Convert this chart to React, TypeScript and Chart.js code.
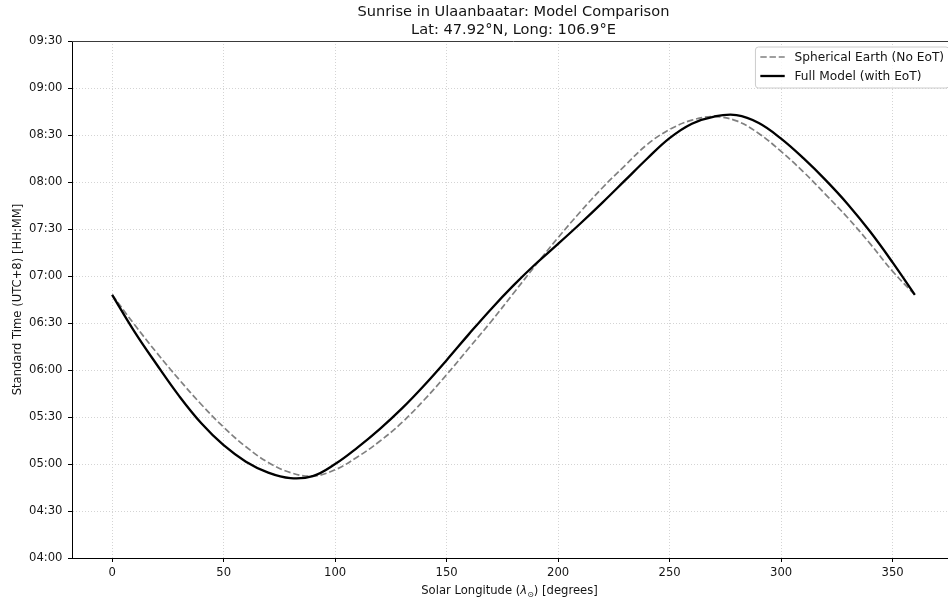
import React, { useEffect, useRef } from "react";
import { Chart, registerables } from "chart.js";

Chart.register(...registerables);

// ---- data (sunrise, minutes after midnight, UTC+8) ----
const longitudes = [
  0, 10, 20, 30, 40, 50, 60, 70, 80, 90, 100, 110, 120, 130, 140, 150, 160, 170, 180,
  190, 200, 210, 220, 230, 240, 250, 260, 270, 280, 290, 300, 310, 320, 330, 340, 350, 360,
];
const sphericalMinutes = [
  408, 389, 371, 354, 338, 323.5, 311, 301, 294.5, 292.3, 296.3, 304.5, 314.5, 326.5, 341, 357,
  374, 391, 409, 427, 444.5, 461, 476.5, 490.5, 504, 513.5, 519.5, 521.7, 519, 511, 499.5, 486.5,
  472, 457, 440.5, 423, 408,
];
const fullModelMinutes = [
  408, 384.5, 363.5, 343.5, 326, 312, 301.5, 294.5, 291, 292.3, 300, 310.5, 322.3, 335.5, 350.3,
  366.3, 382.9, 399, 414, 427.8, 440.5, 453.5, 467, 481, 495, 508, 517.2, 521.8, 522.7,
  517.7, 507.7, 495.2, 481.2, 465.7, 448.2, 428.7, 408,
];
const seriesLabels = ["Spherical Earth (No EoT)", "Full Model (with EoT)"];
const titleLines = ["Sunrise in Ulaanbaatar: Model Comparison", "Lat: 47.92°N, Long: 106.9°E"];
const yAxisTitle = "Standard Time (UTC+8) [HH:MM]";
const xAxisTitleParts = ["Solar Longitude (", "λ", "⊙", ") [degrees]"];
const yRange = [240, 570];
const yStep = 30;
const xRange = [-18, 378];
const xStep = 50;

const FONT = "'DejaVu Sans', sans-serif";
const TEXT = "#141414";
const TICK_FS = 11.6;
const LEGEND_FS = 12.2;

const fmt = (m: number) => {
  const h = Math.floor(m / 60);
  const mm = Math.round(m - h * 60);
  return `${String(h).padStart(2, "0")}:${String(mm).padStart(2, "0")}`;
};

const framePlugin = {
  id: "frameAndLegend",
  afterDraw(chart: any) {
    const { ctx, chartArea } = chart;
    const { left, right, top } = chartArea;
    ctx.save();
    // top spine
    ctx.strokeStyle = "#3a3a3a";
    ctx.lineWidth = 1;
    ctx.beginPath();
    ctx.moveTo(left, Math.round(top) + 0.5);
    ctx.lineTo(right, Math.round(top) + 0.5);
    ctx.stroke();

    // legend
    const fs = LEGEND_FS;
    ctx.font = `${fs}px ${FONT}`;
    const labels = chart.data.datasets.map((d: any) => d.label as string);
    const maxW = Math.max(...labels.map((l: string) => ctx.measureText(l).width));
    const pad = 0.4 * fs;
    const handle = 2 * fs;
    const gap = 0.8 * fs;
    const rowH = 19;
    const boxW = pad * 2 + handle + gap + maxW;
    const boxH = 41;
    const bx = right - 6 - boxW;
    const by = Math.round(top) + 6;
    ctx.beginPath();
    const r = 3;
    ctx.moveTo(bx + r, by);
    ctx.lineTo(bx + boxW - r, by);
    ctx.quadraticCurveTo(bx + boxW, by, bx + boxW, by + r);
    ctx.lineTo(bx + boxW, by + boxH - r);
    ctx.quadraticCurveTo(bx + boxW, by + boxH, bx + boxW - r, by + boxH);
    ctx.lineTo(bx + r, by + boxH);
    ctx.quadraticCurveTo(bx, by + boxH, bx, by + boxH - r);
    ctx.lineTo(bx, by + r);
    ctx.quadraticCurveTo(bx, by, bx + r, by);
    ctx.closePath();
    ctx.fillStyle = "rgba(255,255,255,0.8)";
    ctx.fill();
    ctx.strokeStyle = "#cccccc";
    ctx.lineWidth = 1;
    ctx.stroke();
    chart.data.datasets.forEach((d: any, i: number) => {
      const cy = by + 10 + i * rowH;
      const hx = bx + pad;
      ctx.save();
      ctx.strokeStyle = d.borderColor;
      ctx.lineWidth = d.borderWidth;
      ctx.setLineDash(d.borderDash || []);
      ctx.beginPath();
      ctx.moveTo(hx, cy);
      ctx.lineTo(hx + handle, cy);
      ctx.stroke();
      ctx.restore();
      ctx.fillStyle = TEXT;
      ctx.textAlign = "left";
      ctx.textBaseline = "middle";
      ctx.font = `${fs}px ${FONT}`;
      ctx.fillText(d.label, hx + handle + gap, cy + 0.5);
    });

    // x axis title with subscript
    const cx = (left + right) / 2 - 4;
    const ty = 594;
    const normal = `${TICK_FS}px ${FONT}`;
    const italic = `italic ${TICK_FS}px ${FONT}`;
    const small = `8px ${FONT}`;
    const parts = [
      { t: xAxisTitleParts[0], f: normal, dy: 0 },
      { t: xAxisTitleParts[1], f: italic, dy: 0 },
      { t: xAxisTitleParts[2], f: small, dy: 2.5 },
      { t: xAxisTitleParts[3], f: normal, dy: 0 },
    ];
    let total = 0;
    parts.forEach((p) => {
      ctx.font = p.f;
      total += ctx.measureText(p.t).width;
    });
    let x = cx - total / 2;
    ctx.fillStyle = TEXT;
    ctx.textAlign = "left";
    ctx.textBaseline = "alphabetic";
    parts.forEach((p) => {
      ctx.font = p.f;
      ctx.fillText(p.t, x, ty + p.dy);
      x += ctx.measureText(p.t).width;
    });
    ctx.restore();
  },
};

export default function App() {
  const ref = useRef<HTMLCanvasElement | null>(null);
  useEffect(() => {
    if (!ref.current) return;
    const chart = new Chart(ref.current, {
      type: "line",
      data: {
        datasets: [
          {
            label: seriesLabels[0],
            data: longitudes.map((x, i) => ({ x, y: sphericalMinutes[i] })),
            borderColor: "#808080",
            borderWidth: 1.7,
            borderDash: [6.4, 2.8],
            pointRadius: 0,
            tension: 0.4,
            fill: false,
            order: 1,
          },
          {
            label: seriesLabels[1],
            data: longitudes.map((x, i) => ({ x, y: fullModelMinutes[i] })),
            borderColor: "#000000",
            borderWidth: 2.3,
            pointRadius: 0,
            tension: 0.4,
            fill: false,
            order: 0,
          },
        ],
      },
      options: {
        animation: false,
        responsive: false,
        events: [],
        layout: { padding: { left: 0, right: 5, top: 0, bottom: 0 } },
        plugins: {
          legend: { display: false },
          tooltip: { enabled: false },
          title: {
            display: true,
            text: titleLines,
            fullSize: false,
            color: TEXT,
            font: { family: FONT, size: 14.6, weight: "normal", lineHeight: 1.233 },
            padding: { top: 3, bottom: 2 },
          },
        },
        scales: {
          x: {
            type: "linear",
            min: xRange[0],
            max: xRange[1],
            ticks: {
              stepSize: xStep,
              includeBounds: false,
              color: TEXT,
              font: { family: FONT, size: TICK_FS },
              padding: 4,
              maxRotation: 0,
            },
            grid: {
              color: "#d4d4d4",
              lineWidth: 1,
              tickColor: "#000",
              tickLength: 4,
              tickWidth: 1,
              tickBorderDash: [],
            },
            border: { display: true, color: "#000", width: 1, dash: [1, 2] },
            afterFit: (s: any) => {
              s.height = 44;
            },
          },
          y: {
            type: "linear",
            min: yRange[0],
            max: yRange[1],
            ticks: {
              stepSize: yStep,
              includeBounds: false,
              color: TEXT,
              font: { family: FONT, size: TICK_FS },
              padding: 5.5,
              callback: (v: any) => fmt(Number(v)),
            },
            grid: {
              color: "#d4d4d4",
              lineWidth: 1,
              tickColor: "#000",
              tickLength: 4,
              tickWidth: 1,
              tickBorderDash: [],
            },
            border: { display: true, color: "#000", width: 1, dash: [1, 2] },
            title: {
              display: true,
              text: yAxisTitle,
              color: TEXT,
              font: { family: FONT, size: TICK_FS },
              padding: { top: 11, bottom: 0 },
            },
            afterFit: (s: any) => {
              s.width = 72;
            },
          },
        },
      } as any,
      plugins: [framePlugin],
    });
    return () => chart.destroy();
  }, []);
  return (
    <div
      style={{
        position: "fixed",
        left: 0,
        top: 0,
        width: 948,
        height: 602,
        overflow: "hidden",
        background: "#fff",
      }}
    >
      <canvas ref={ref} width={960} height={602} style={{ display: "block" }} />
    </div>
  );
}
